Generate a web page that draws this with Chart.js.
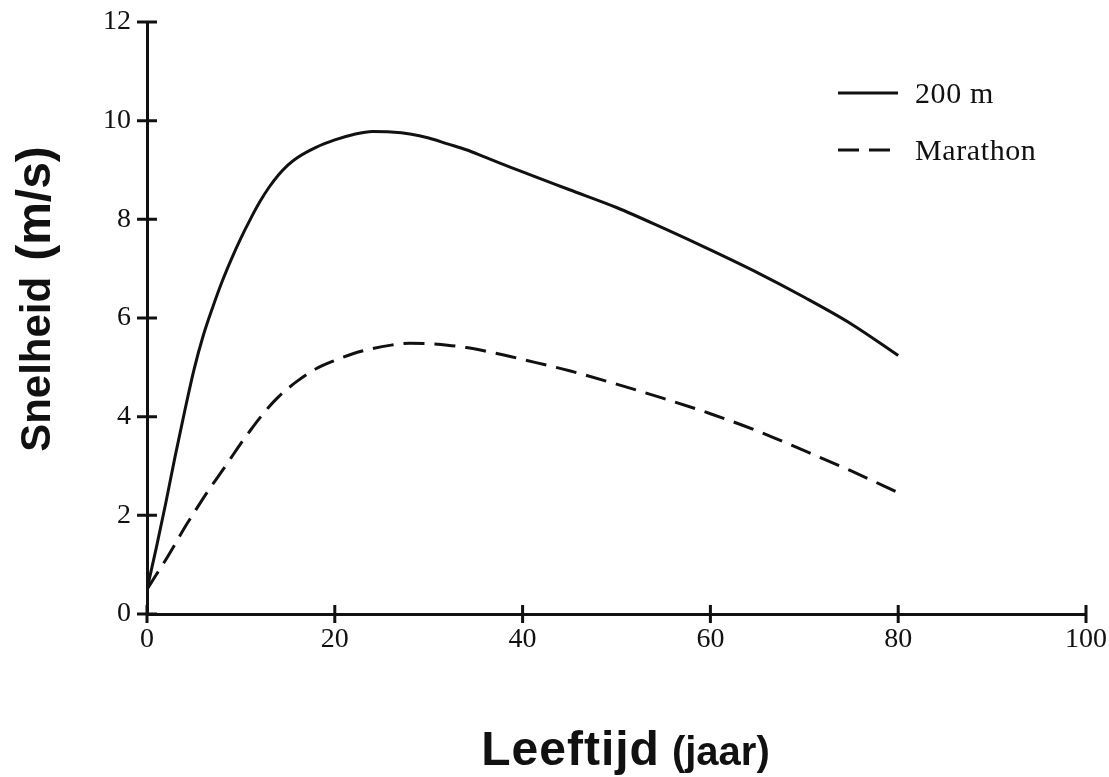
<!DOCTYPE html>
<html>
<head>
<meta charset="utf-8">
<title>Snelheid naar leeftijd</title>
<script src="https://cdn.jsdelivr.net/npm/chart.js@4.4.1/dist/chart.umd.min.js"></script>
<style>
  html, body { margin: 0; padding: 0; background: #fff; }
  #wrap { width: 1109px; height: 777px; position: relative; }
</style>
</head>
<body>
<div id="wrap"><canvas id="speedChart"></canvas></div>
<script>
// leeftijd (jaar) en snelheid (m/s) per loopafstand
const ages          = [0, 1, 2, 3, 4, 5, 6, 7, 8, 9, 10, 11, 12, 13, 14, 15, 16, 18, 20, 22, 24, 26, 28, 30, 32, 34, 36, 38, 40, 45, 50, 55, 60, 65, 70, 75, 80];
const speed200m     = [0.5, 1.35, 2.25, 3.2, 4.1, 4.95, 5.65, 6.22, 6.74, 7.2, 7.62, 8.0, 8.35, 8.65, 8.9, 9.1, 9.25, 9.46, 9.61, 9.72, 9.78, 9.77, 9.73, 9.65, 9.53, 9.41, 9.26, 9.11, 8.96, 8.6, 8.24, 7.82, 7.38, 6.92, 6.42, 5.88, 5.24];
const speedMarathon = [0.5, 0.8, 1.1, 1.42, 1.75, 2.05, 2.35, 2.63, 2.9, 3.18, 3.46, 3.72, 3.97, 4.2, 4.4, 4.57, 4.72, 4.97, 5.14, 5.28, 5.38, 5.45, 5.49, 5.48, 5.45, 5.4, 5.33, 5.25, 5.16, 4.93, 4.66, 4.37, 4.06, 3.71, 3.31, 2.9, 2.46];

const xTicks = [0, 20, 40, 60, 80, 100];
const yTicks = [0, 2, 4, 6, 8, 10, 12];

const INK = "#111";
const SERIF = '"Liberation Serif", "Times New Roman", serif';
const SANS = '"Liberation Sans", Arial, sans-serif';

function toPoints(ys) {
  return ages.map((a, i) => ({ x: a, y: ys[i] }));
}

// tick marks that cross the axis line on both sides
const crossTicks = {
  id: "crossTicks",
  afterDraw(chart) {
    const { ctx, chartArea, scales } = chart;
    ctx.save();
    ctx.strokeStyle = INK;
    ctx.lineWidth = 3;
    ctx.beginPath();
    scales.y.ticks.forEach(t => {
      const y = scales.y.getPixelForValue(t.value);
      ctx.moveTo(chartArea.left - 10, y);
      ctx.lineTo(chartArea.left + 10, y);
    });
    scales.x.ticks.forEach(t => {
      const x = scales.x.getPixelForValue(t.value);
      ctx.moveTo(x, chartArea.bottom - 9);
      ctx.lineTo(x, chartArea.bottom + 9);
    });
    // axis lines run a little past the origin
    ctx.moveTo(chartArea.left - 6, chartArea.bottom);
    ctx.lineTo(chartArea.left, chartArea.bottom);
    ctx.moveTo(chartArea.left, chartArea.bottom);
    ctx.lineTo(chartArea.left, chartArea.bottom + 4);
    ctx.stroke();
    ctx.restore();
  }
};

// legend in the upper right of the plot
const lineLegend = {
  id: "lineLegend",
  afterDraw(chart) {
    const { ctx } = chart;
    ctx.save();
    ctx.fillStyle = INK;
    ctx.font = "30px " + SERIF;
    ctx.letterSpacing = "0.6px";
    ctx.textBaseline = "middle";
    chart.data.datasets.forEach((ds, i) => {
      const y = 93 + i * 57;
      ctx.strokeStyle = ds.borderColor;
      ctx.lineWidth = ds.borderWidth;
      ctx.setLineDash(ds.borderDash || []);
      ctx.beginPath();
      ctx.moveTo(838, y);
      ctx.lineTo(898, y);
      ctx.stroke();
      ctx.setLineDash([]);
      ctx.fillText(ds.label, 915, y + 2);
    });
    ctx.restore();
  }
};

// axis titles with a separate unit part
const axisTitles = {
  id: "axisTitles",
  afterDraw(chart) {
    const { ctx, chartArea } = chart;
    ctx.save();
    ctx.fillStyle = INK;
    ctx.textBaseline = "alphabetic";
    ctx.textAlign = "left";

    // x title
    ctx.font = "bold 48px " + SANS;
    ctx.letterSpacing = "1px";
    const wMain = ctx.measureText("Leeftijd").width;
    ctx.font = "bold 40px " + SANS;
    ctx.letterSpacing = "0px";
    const wUnit = ctx.measureText("(jaar)").width;
    const gap = 12;
    const x0 = (chartArea.left + chartArea.right) / 2 + 9 - (wMain + gap + wUnit) / 2;
    ctx.font = "bold 48px " + SANS;
    ctx.letterSpacing = "1px";
    ctx.fillText("Leeftijd", x0, 765);
    ctx.font = "bold 40px " + SANS;
    ctx.letterSpacing = "0px";
    ctx.fillText("(jaar)", x0 + wMain + gap, 765);

    // y title
    ctx.translate(50, 299);
    ctx.rotate(-Math.PI / 2);
    ctx.letterSpacing = "0px";
    ctx.font = "bold 42px " + SANS;
    const hMain = ctx.measureText("Snelheid").width;
    ctx.font = "bold 48px " + SANS;
    const hUnit = ctx.measureText("(m/s)").width;
    const yGap = 16;
    const y0 = -(hMain + yGap + hUnit) / 2;
    ctx.font = "bold 42px " + SANS;
    ctx.fillText("Snelheid", y0, 0);
    ctx.font = "bold 48px " + SANS;
    ctx.fillText("(m/s)", y0 + hMain + yGap, 0);
    ctx.restore();
  }
};

new Chart(document.getElementById("speedChart").getContext("2d"), {
  type: "line",
  data: {
    datasets: [
      {
        label: "200 m",
        data: toPoints(speed200m),
        borderColor: INK,
        borderWidth: 3,
        pointRadius: 0,
        cubicInterpolationMode: "monotone",
        fill: false
      },
      {
        label: "Marathon",
        data: toPoints(speedMarathon),
        borderColor: INK,
        borderWidth: 3,
        borderDash: [21, 10],
        pointRadius: 0,
        cubicInterpolationMode: "monotone",
        fill: false
      }
    ]
  },
  options: {
    responsive: true,
    maintainAspectRatio: false,
    animation: false,
    layout: { padding: { left: 0, right: 23, top: 22, bottom: 0 } },
    plugins: {
      legend: { display: false },
      tooltip: { enabled: false }
    },
    scales: {
      x: {
        type: "linear",
        min: 0,
        max: 100,
        afterBuildTicks: s => { s.ticks = xTicks.map(v => ({ value: v })); },
        afterFit: s => { s.height = 163; s.paddingLeft = 0; s.paddingRight = 0; },
        grid: { display: false, drawTicks: false },
        border: { display: true, width: 3, color: INK },
        ticks: { color: INK, padding: 9, font: { family: SERIF, size: 28 } }
      },
      y: {
        type: "linear",
        min: 0,
        max: 12,
        afterBuildTicks: s => { s.ticks = yTicks.map(v => ({ value: v })); },
        afterFit: s => { s.width = 147; s.paddingTop = 0; s.paddingBottom = 0; },
        grid: { display: false, drawTicks: false },
        border: { display: true, width: 3, color: INK },
        ticks: { color: INK, padding: 16, font: { family: SERIF, size: 28 } }
      }
    }
  },
  plugins: [crossTicks, lineLegend, axisTitles]
});
</script>
</body>
</html>
